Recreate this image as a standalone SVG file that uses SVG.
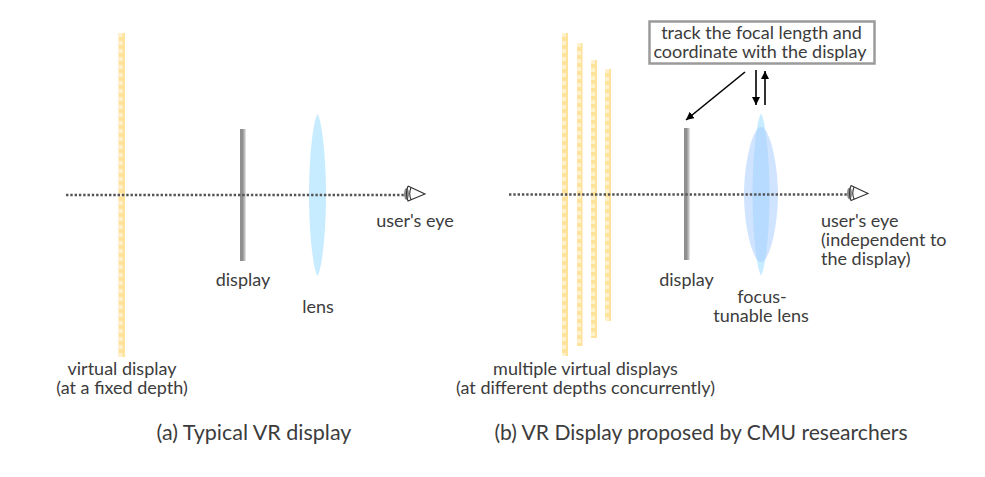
<svg xmlns="http://www.w3.org/2000/svg" width="985" height="477" viewBox="0 0 985 477">
<style>
  text { font-family: "Lato", "Liberation Sans", sans-serif; fill: #3c3c3c; font-size: 18px; text-anchor: middle; }
  .caption { font-size: 21.500px; }
  .caption-long { font-size: 21.100px; }
  .left { text-anchor: start; }
  .vbar-base { fill: #ffe29b; }
  .vbar-dash { stroke: #fff1cc; stroke-width: 4; stroke-dasharray: 4 4; fill: none; }
  .panel { fill: #8f8f8f; }
  .panel-edge { fill: #bdbdbd; }
  .axis { stroke: #555; stroke-width: 2.6; stroke-dasharray: 2.4 1.9; fill: none; }
  .lens { fill: #c8ecff; }
  .lens-wide { fill: #aacdff; fill-opacity: 0.55; }
  .eye { fill: none; stroke: #333; stroke-width: 1.1; }
  .iris { fill: #8a8a8a; }
  .link { stroke: #000; stroke-width: 1.6; fill: none; marker-end: url(#head); }
</style>
<defs>
  <marker id="head" markerUnits="userSpaceOnUse" markerWidth="10" markerHeight="10" refX="8" refY="4" orient="auto">
    <path d="M0 0L8 4L0 8Z" fill="#000"/>
  </marker>
  <g id="eye-shape">
    <ellipse class="iris" cx="-1.500" cy="0" rx="2.500" ry="6"/>
    <path class="eye" d="M0 -8L17 0L0 7Q-3 0 0 -8M3 -6.500Q0.500 0 3 5.500"/>
  </g>
  <path id="thin-lens" d="M0 -81C4.500 -74 8.500 -38 8.500 0C8.500 38 4.500 74 0 81C-4.500 74 -8.500 38 -8.500 0C-8.500 -38 -4.500 -74 0 -81Z"/>
</defs>
<rect width="985" height="477" fill="#fff"/>

<g id="virtual-display-a">
  <rect class="vbar-base" x="118.500" y="33" width="6.500" height="324"/>
  <line class="vbar-dash" x1="120.500" y1="33" x2="120.500" y2="357"/>
</g>
<g id="virtual-displays-b">
  <rect class="vbar-base" x="562" y="33" width="6" height="323"/>
  <line class="vbar-dash" x1="564" y1="33" x2="564" y2="356"/>
  <rect class="vbar-base" x="577" y="43" width="5.500" height="303"/>
  <line class="vbar-dash" x1="579" y1="43" x2="579" y2="346"/>
  <rect class="vbar-base" x="591" y="60" width="6" height="278"/>
  <line class="vbar-dash" x1="593" y1="60" x2="593" y2="338"/>
  <rect class="vbar-base" x="605" y="69" width="6" height="252"/>
  <line class="vbar-dash" x1="607" y1="69" x2="607" y2="321"/>
</g>
<g id="lens-a"><use class="lens" href="#thin-lens" x="317.500" y="195"/></g>
<g id="lens-b">
  <use class="lens" href="#thin-lens" x="761" y="194.500"/>
  <path class="lens-wide" d="M761 127C770 127 778 165 778 194.500C778 224 770 262 761 262C752 262 744 224 744 194.500C744 165 752 127 761 127Z"/>
</g>
<g id="display-a">
  <rect class="panel-edge" x="240" y="129" width="5.500" height="132"/>
  <rect class="panel" x="240" y="129" width="3.500" height="132"/>
</g>
<g id="display-b">
  <rect class="panel-edge" x="684" y="128" width="5.500" height="132"/>
  <rect class="panel" x="684" y="128" width="3.500" height="132"/>
</g>

<g id="connectors">
  <line class="axis" x1="66" y1="195" x2="405" y2="195"/>
  <line class="axis" x1="509" y1="194.500" x2="849" y2="194.500"/>
  <line class="link" x1="745" y1="72" x2="686" y2="120"/>
  <line class="link" x1="756" y1="70" x2="756" y2="105"/>
  <line class="link" x1="765" y1="105" x2="765" y2="71"/>
</g>

<g id="eye-a"><use href="#eye-shape" x="408" y="194"/></g>
<g id="eye-b"><use href="#eye-shape" x="851" y="193.500"/></g>

<g id="sync-box">
  <rect x="649.500" y="21.500" width="225" height="42" fill="#fff" stroke="#9b9b9b" stroke-width="2.500"/>
  <text x="761.500" y="38.500">track the focal length and</text>
  <text x="760" y="58">coordinate with the display</text>
</g>
<g id="labels-a">
  <text x="415" y="226.500">user's eye</text>
  <text x="243" y="285.500">display</text>
  <text x="318" y="312.500">lens</text>
  <text x="122" y="374.500">virtual display</text>
  <text x="122" y="393.500">(at a fixed depth)</text>
  <text class="caption" x="254" y="439.500">(a) Typical VR display</text>
</g>
<g id="labels-b">
  <text class="left" x="821" y="226.500">user's eye</text>
  <text class="left" x="821" y="245.500">(independent to</text>
  <text class="left" x="821" y="264.500">the display)</text>
  <text x="762" y="302.500">focus-</text>
  <text x="761" y="321.500">tunable lens</text>
  <text x="686.500" y="285.500">display</text>
  <text x="585.500" y="374.500">multiple virtual displays</text>
  <text x="585.500" y="393.500">(at different depths concurrently)</text>
  <text class="caption-long" x="701" y="439.500">(b) VR Display proposed by CMU researchers</text>
</g>
</svg>
